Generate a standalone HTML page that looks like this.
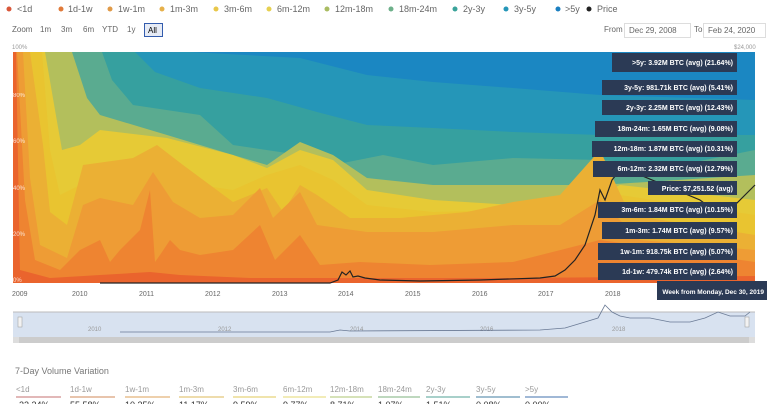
<!DOCTYPE html>
<html><head><meta charset="utf-8"><style>
body{margin:0;background:#fff;width:768px;height:404px;overflow:hidden;font-family:"Liberation Sans",sans-serif}
svg text{font-family:"Liberation Sans",sans-serif}
</style></head><body>
<svg width="768" height="404" viewBox="0 0 768 404" xmlns="http://www.w3.org/2000/svg">
<g font-size="9" fill="#666">
<circle cx="9" cy="9" r="2.5" fill="#d9573a"/><text x="17" y="12">&lt;1d</text>
<circle cx="61" cy="9" r="2.5" fill="#e07a3a"/><text x="68" y="12">1d-1w</text>
<circle cx="110" cy="9" r="2.5" fill="#e09a48"/><text x="118" y="12">1w-1m</text>
<circle cx="162" cy="9" r="2.5" fill="#e6b04a"/><text x="170" y="12">1m-3m</text>
<circle cx="216" cy="9" r="2.5" fill="#e8c74a"/><text x="224" y="12">3m-6m</text>
<circle cx="269" cy="9" r="2.5" fill="#e6d050"/><text x="277" y="12">6m-12m</text>
<circle cx="327" cy="9" r="2.5" fill="#a9bc62"/><text x="335" y="12">12m-18m</text>
<circle cx="391" cy="9" r="2.5" fill="#6db08a"/><text x="399" y="12">18m-24m</text>
<circle cx="455" cy="9" r="2.5" fill="#3aa39a"/><text x="463" y="12">2y-3y</text>
<circle cx="506" cy="9" r="2.5" fill="#2596b8"/><text x="514" y="12">3y-5y</text>
<circle cx="558" cy="9" r="2.5" fill="#1b7fc0"/><text x="565" y="12">&gt;5y</text>
<circle cx="589" cy="9" r="2.5" fill="#222"/><text x="597" y="12">Price</text>
</g>
<g font-size="8" fill="#666">
<text x="12" y="32">Zoom</text><text x="40" y="32">1m</text><text x="61" y="32">3m</text><text x="83" y="32">6m</text><text x="102" y="32">YTD</text><text x="127" y="32">1y</text>
<rect x="144.5" y="23.5" width="18" height="13" fill="#e6ebf5" stroke="#335cad"/><text x="148" y="33" fill="#000">All</text>
<text x="604" y="32">From</text><rect x="624.5" y="23.5" width="66" height="14" fill="#fff" stroke="#ddd"/><text x="629" y="33">Dec 29, 2008</text>
<text x="694" y="32">To</text><rect x="703.5" y="23.5" width="62" height="14" fill="#fff" stroke="#ddd"/><text x="708" y="33">Feb 24, 2020</text>
</g>
<g font-size="6" fill="#999"><text x="12" y="49">100%</text><text x="734" y="49">$24,000</text></g>
<rect x="13" y="52" width="742" height="231" fill="#1b87c2"/>
<polygon fill="#2596b8" points="190,52 300,58 367,75 433,82 513,88 600,95 755,100 755,283 13,283 13,52"/>
<polygon fill="#36a09f" points="135,52 155,72 200,88 267,98 317,112 367,125 433,128 513,132 600,135 755,135 755,283 13,283 13,52"/>
<polygon fill="#5aab90" points="102,52 112,80 133,105 200,115 233,145 300,155 333,165 383,155 433,165 513,158 600,160 680,165 755,150 755,283 13,283 13,52"/>
<polygon fill="#b3bf5c" points="72,52 87,98 100,115 167,135 233,155 267,165 300,142 333,155 367,178 433,185 513,185 600,185 755,175 755,283 13,283 13,52"/>
<polygon fill="#e6ca36" points="45,52 55,110 62,150 80,145 100,130 167,138 233,155 267,168 300,150 333,160 367,190 433,200 513,205 580,205 620,185 755,200 755,283 13,283 13,52"/>
<polygon fill="#e9c430" points="42,52 50,150 60,195 80,185 130,175 157,160 200,185 233,190 267,175 300,165 333,180 367,205 433,212 513,210 580,210 620,195 755,215 755,283 13,283 13,52"/>
<polygon fill="#ebb034" points="30,52 43,145 50,212 67,225 83,165 133,158 157,145 183,165 233,202 267,188 283,212 300,185 317,195 350,218 400,218 467,212 513,202 560,195 600,150 630,215 755,235 755,283 13,283 13,52"/>
<polygon fill="#ee9c35" points="23,52 30,178 40,245 67,258 83,205 100,198 133,205 153,172 173,202 200,218 233,215 260,188 273,218 300,192 317,225 367,232 433,232 513,225 560,225 600,200 640,240 755,250 755,283 13,283 13,52"/>
<polygon fill="#ee8431" points="17,52 25,200 35,260 60,270 80,250 100,240 110,262 120,250 140,230 150,190 155,262 160,255 170,240 180,250 200,255 233,250 260,225 275,260 300,235 320,265 360,262 430,265 513,262 600,240 755,262 755,283 13,283 13,52"/>
<polygon fill="#ea642d" points="13,52 16,52 20,270 50,278 100,275 150,272 180,275 250,278 513,278 755,276 755,283 13,283"/>
<polyline fill="none" stroke="#222" stroke-width="1.2" points="100,283 330,283 338,280 342,272 346,275 350,271 353,277 358,276 365,278 380,280 420,281 480,280 540,278 555,276 565,270 575,260 585,245 595,215 600,190 605,200 612,180 620,170 640,175 700,200 720,215 735,205 745,195 755,185"/>
<g font-size="6" fill="#fff" opacity="0.8"><text x="13" y="97">80%</text><text x="13" y="143">60%</text><text x="13" y="190">40%</text><text x="13" y="236">20%</text><text x="13" y="282">0%</text></g>
<g fill="#2b3a55">
<rect x="612" y="53" width="125" height="19"/><rect x="602" y="80" width="135" height="15"/><rect x="602" y="100" width="135" height="15"/>
<rect x="595" y="121" width="142" height="16"/><rect x="592" y="141" width="145" height="16"/><rect x="593" y="161" width="144" height="16"/>
<rect x="648" y="181" width="89" height="14"/><rect x="598" y="202" width="139" height="16"/><rect x="602" y="222" width="135" height="17"/>
<rect x="598" y="243" width="139" height="17"/><rect x="598" y="263" width="139" height="17"/><rect x="657" y="281" width="110" height="19"/>
</g>
<g font-size="7" font-weight="bold" fill="#fff" text-anchor="end">
<text x="733" y="65">&gt;5y: 3.92M BTC (avg) (21.64%)</text>
<text x="733" y="90">3y-5y: 981.71k BTC (avg) (5.41%)</text>
<text x="733" y="110">2y-3y: 2.25M BTC (avg) (12.43%)</text>
<text x="733" y="131">18m-24m: 1.65M BTC (avg) (9.08%)</text>
<text x="733" y="151">12m-18m: 1.87M BTC (avg) (10.31%)</text>
<text x="733" y="171">6m-12m: 2.32M BTC (avg) (12.79%)</text>
<text x="733" y="191">Price: $7,251.52 (avg)</text>
<text x="733" y="212">3m-6m: 1.84M BTC (avg) (10.15%)</text>
<text x="733" y="233">1m-3m: 1.74M BTC (avg) (9.57%)</text>
<text x="733" y="254">1w-1m: 918.75k BTC (avg) (5.07%)</text>
<text x="733" y="274">1d-1w: 479.74k BTC (avg) (2.64%)</text>
<text x="764" y="294" font-size="6.5">Week from Monday, Dec 30, 2019</text>
</g>
<g font-size="7" fill="#666">
<text x="12" y="296">2009</text><text x="72" y="296">2010</text><text x="139" y="296">2011</text><text x="205" y="296">2012</text><text x="272" y="296">2013</text><text x="338" y="296">2014</text><text x="405" y="296">2015</text><text x="472" y="296">2016</text><text x="538" y="296">2017</text><text x="605" y="296">2018</text>
</g>
<rect x="13" y="312" width="742" height="25" fill="#d8e2f0"/>
<line x1="13" y1="312" x2="755" y2="312" stroke="#bbb"/>
<rect x="13" y="337" width="742" height="6" fill="#ddd"/>
<rect x="19" y="337" width="730" height="6" fill="#ccc"/>
<rect x="18" y="317" width="4" height="10" fill="#f2f2f2" stroke="#999" stroke-width="0.5"/>
<rect x="745" y="317" width="4" height="10" fill="#f2f2f2" stroke="#999" stroke-width="0.5"/>
<g font-size="6" fill="#999"><text x="88" y="331">2010</text><text x="218" y="331">2012</text><text x="350" y="331">2014</text><text x="480" y="331">2016</text><text x="612" y="331">2018</text></g>
<polyline fill="none" stroke="#6a7a95" stroke-width="0.8" points="120,332 330,332 340,330 350,331 540,330 565,328 585,322 598,318 605,305 612,312 620,316 630,318 650,318 670,322 690,322 705,318 718,312 730,316 745,316 750,312"/>
<text x="15" y="374" font-size="9" fill="#777">7-Day Volume Variation</text>
<g font-size="8" fill="#999">
<text x="16" y="392">&lt;1d</text><text x="70" y="392">1d-1w</text><text x="125" y="392">1w-1m</text><text x="179" y="392">1m-3m</text><text x="233" y="392">3m-6m</text><text x="283" y="392">6m-12m</text><text x="330" y="392">12m-18m</text><text x="378" y="392">18m-24m</text><text x="426" y="392">2y-3y</text><text x="476" y="392">3y-5y</text><text x="525" y="392">&gt;5y</text>
</g>
<g stroke-width="1.5">
<line x1="16" y1="397" x2="61" y2="397" stroke="#d9a0a0"/><line x1="70" y1="397" x2="115" y2="397" stroke="#e0b090"/><line x1="125" y1="397" x2="170" y2="397" stroke="#e8c090"/><line x1="179" y1="397" x2="224" y2="397" stroke="#e8d090"/><line x1="233" y1="397" x2="276" y2="397" stroke="#ecdc90"/><line x1="283" y1="397" x2="326" y2="397" stroke="#eee6a0"/><line x1="330" y1="397" x2="372" y2="397" stroke="#c8d8a0"/><line x1="378" y1="397" x2="420" y2="397" stroke="#a8cca8"/><line x1="426" y1="397" x2="470" y2="397" stroke="#8cc0b8"/><line x1="476" y1="397" x2="520" y2="397" stroke="#80a8c0"/><line x1="525" y1="397" x2="568" y2="397" stroke="#80a0c8"/>
</g>
<g font-size="9" fill="#333"><text x="16" y="408">-22.34%</text><text x="70" y="408">55.58%</text><text x="125" y="408">10.35%</text><text x="179" y="408">11.17%</text><text x="233" y="408">9.59%</text><text x="283" y="408">9.77%</text><text x="330" y="408">8.71%</text><text x="378" y="408">1.07%</text><text x="426" y="408">1.51%</text><text x="476" y="408">0.08%</text><text x="525" y="408">0.00%</text></g>
</svg>
</body></html>
